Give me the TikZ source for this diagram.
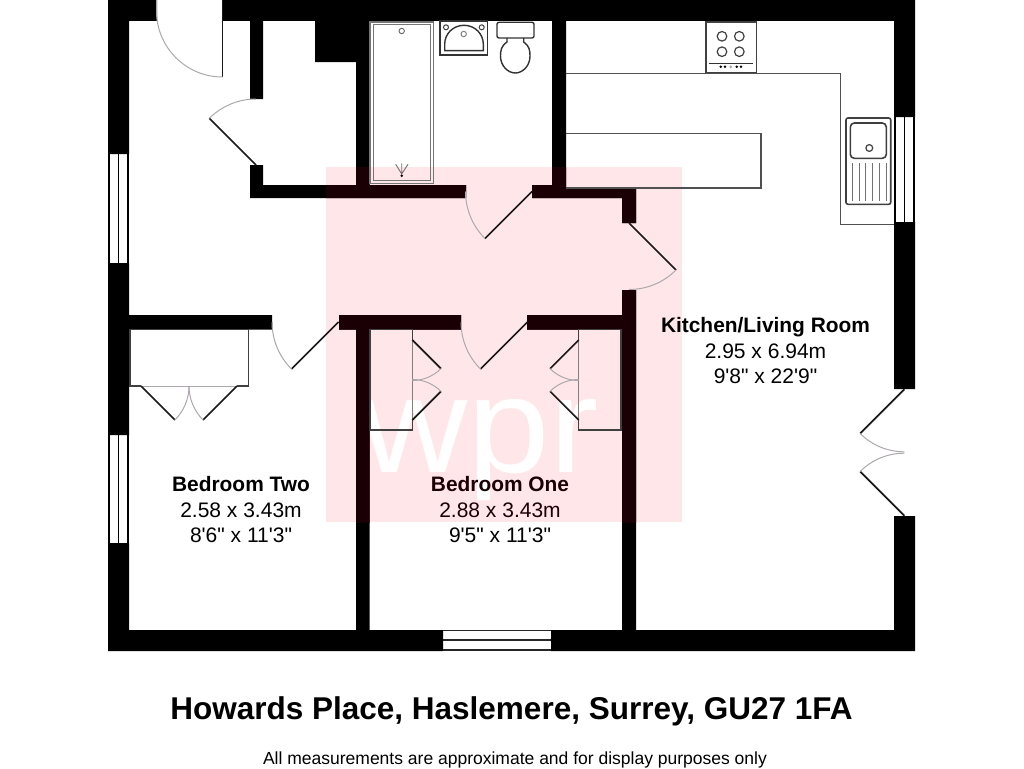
\documentclass[tikz,border=0pt]{standalone}
\usepackage{fontspec}
\newfontfamily\ar{Liberation Sans}
\definecolor{pinkmark}{HTML}{FFE6E9}
\definecolor{wallpink}{HTML}{1A0005}
\definecolor{fitgray}{HTML}{505050}
\definecolor{bathgray}{HTML}{757575}
\definecolor{sweepgray}{HTML}{ADA8AD}
\tikzset{
  x=1pt,y=-1pt,
  leaf/.style={draw=black!90,line width=1.7pt},
  sweep/.style={draw=sweepgray,line width=1pt},
  fitting/.style={draw=fitgray,line width=1.5pt},
  frame/.style={draw=black!75,line width=1.6pt},
  bath/.style={draw=bathgray,line width=1.5pt},
  thinline/.style={draw=black!80,line width=1.4pt},
  winline/.style={draw=black,line width=1.8pt},
  label/.style={inner sep=0pt,anchor=base,font=\ar\fontsize{21}{24}\selectfont},
  roomname/.style={inner sep=0pt,anchor=base,font=\ar\bfseries\fontsize{20.9}{24}\selectfont},
}
\newcommand\swing[4]{%
  \draw[leaf] (#1) -- ++(#3:#2);
  \draw[sweep] (#1) ++(#3:#2) arc[start angle=#3,end angle=#4,radius=#2];}
\newcommand\walls[1]{%
  \fill[#1]
    (108,0) rectangle (157,21) (223,0) rectangle (915,21)
    (108,21) rectangle (129,154) (108,263) rectangle (129,435) (108,543) rectangle (129,651)
    (894,21) rectangle (915,117) (894,222) rectangle (915,389) (894,516) rectangle (915,651)
    (108,630) rectangle (443,651) (551,630) rectangle (915,651)
    (250,21) rectangle (263,99) (250,165) rectangle (263,198)
    (250,185) rectangle (466,198)
    (356,21) rectangle (369.5,185) (315,21) rectangle (356,62)
    (552,21) rectangle (566,198)
    (532,185) rectangle (566,198) (566,188) rectangle (636,198)
    (622,188) rectangle (636,223) (622,290) rectangle (636,630)
    (129,315) rectangle (272,329.5)
    (339,315) rectangle (461,329.5)
    (527,315) rectangle (622,329.5)
    (356,329.5) rectangle (369.5,630);}
\begin{document}
\begin{tikzpicture}
\useasboundingbox (0,0) rectangle (1024,768);
\fill[white] (0,0) rectangle (1024,768);
% watermark
\fill[pinkmark] (326,167) rectangle (682,522.3);
\node[inner sep=0pt,anchor=base west,xscale=1.09,text=white,font=\ar\fontsize{136}{136}\selectfont] (mark) at (360,472) {wpr};
% walls
\walls{black}
\begin{scope}
  \clip (326,167) rectangle (682,522.3);
  \walls{wallpink}
\end{scope}
% windows
\foreach \x in {108.7,118.5,128.2}{\draw[winline] (\x,154) -- (\x,263); \draw[winline] (\x,435) -- (\x,543);}
\foreach \x in {895,904.5,914}{\draw[winline] (\x,117) -- (\x,222);}
\foreach \y in {630.5,640.3,650.2}{\draw[draw=black!85,line width=1.7pt] (443,\y) -- (551,\y);}
% doors
\swing{222.5,11}{66}{90}{180}
\draw[leaf,line width=1pt] (222.5,0) -- (222.5,11);
\draw[sweep] (156.5,11) -- (156.5,0);
\swing{256,165}{66}{225}{270}
\swing{532,191.5}{66.5}{135}{180}
\draw[sweep] (465.5,191.5) -- (465.5,198);
\swing{629,223}{66.5}{45}{90}
\swing{338.5,322}{66.5}{135}{180}
\draw[sweep] (272,322) -- (272,329.5);
\swing{527.5,322}{66.5}{135}{180}
\draw[sweep] (461,322) -- (461,329.5);
% bedroom two wardrobe
\draw[frame] (141,386) -- (130,386) -- (130,329.5) -- (248.3,329.5) -- (248.3,386) -- (237,386);
\draw[sweep] (141,386) -- (237,386);
\swing{141,386}{48}{45}{0}
\swing{237,386}{48}{135}{180}
% bedroom one wardrobes
\draw[frame,line width=1.2pt] (412.3,340) -- (412.3,329.5) -- (370,329.5) -- (370,430) -- (412.3,430) -- (412.3,420);
\draw[draw=black!50,line width=1pt] (412.3,340) -- (412.3,420);
\swing{412.3,340}{40.5}{45}{90}
\swing{412.3,420}{40.5}{-45}{-90}
\draw[frame,line width=1.2pt] (578.7,340) -- (578.7,329.5) -- (621,329.5) -- (621,430) -- (578.7,430) -- (578.7,420);
\draw[draw=black!50,line width=1pt] (578.7,340) -- (578.7,420);
\swing{578.7,340}{40.5}{135}{90}
\swing{578.7,420}{40.5}{225}{270}
% french doors
\swing{904.3,389.3}{62.5}{135}{90}
\swing{904.3,515.7}{62.5}{225}{270}
% kitchen worktops
\draw[fitting] (566,73.3) -- (840.7,73.3) -- (840.7,224.3) -- (894,224.3);
\draw[fitting] (566,133.7) -- (761,133.7) -- (761,187.8) -- (566,187.8);
% hob
\draw[frame,fill=white] (705.7,22) rectangle (756.3,72.5);
\foreach \x/\y in {722/36.3,739.3/36.3,722/51.7,739.3/51.7}{\draw[draw=black!75,line width=1.2pt] (\x,\y) circle[radius=4.8];}
\draw[draw=black!80,line width=1pt] (709,63.3) -- (753,63.3);
\foreach \x in {720.7,725,736.7,741}{\fill[black] (\x,66.8) circle[radius=1.4];}
\fill[black!35] (730.7,66.8) circle[radius=1.5];
% sink
\draw[frame,rounded corners=2pt] (846,118) rectangle (890.7,204.3);
\draw[frame,rounded corners=4pt] (850.3,123) rectangle (886.3,158.3);
\draw[frame,line width=1.2pt] (869.3,148) circle[radius=3.4];
\foreach \x in {852.3,859,865.7,872.7,879.3,886.7}{\draw[draw=black!55,line width=.8pt] (\x,163) -- (\x,200.7);}
% bath
\draw[bath] (370,22) rectangle (433.7,183.3);
\draw[bath] (373.7,24.7) rectangle (430.7,180.3);
\draw[draw=black!60,line width=.9pt] (401.7,31) circle[radius=2.7];
\draw[draw=black!55,line width=.9pt] (395.7,164.3) -- (401.7,174) -- (408,164.3) (401.7,163.3) -- (401.7,174);
\fill[black] (401.7,175.7) circle[radius=1.4];
% basin
\draw[thinline] (440,21) rectangle (487.3,55);
\draw[thinline] (444.7,50.7) -- (483.3,50.7) -- (483.3,44) .. controls (483.3,34) and (475,25.3) .. (464,25.3) .. controls (453,25.3) and (444.7,34) .. (444.7,44) -- cycle;
\draw[draw=black!75,line width=1pt] (446,27.3) circle[radius=2.5] (481.7,27.3) circle[radius=2.5];
\draw[draw=black!50,line width=1pt] (463.7,34) circle[radius=2.7];
% toilet
\draw[thinline,rounded corners=2pt] (497,22.3) rectangle (534,38);
\draw[thinline] (507,38) -- (507,42) .. controls (501,46) and (500.5,51) .. (500.5,56) .. controls (500.5,66) and (508,73) .. (515.3,73) .. controls (522.6,73) and (530,66) .. (530,56) .. controls (530,51) and (529.6,46) .. (523.7,42) -- (523.7,38);
% labels
\node[roomname] (kn) at (765.5,332) {Kitchen/Living Room};
\node[label] (kd) at (765.5,358) {2.95 x 6.94m};
\node[label] (ki) at (765.5,383) {9'8" x 22'9"};
\node[roomname] (bn) at (241,491.7) {Bedroom Two};
\node[label] (bd) at (241,517.7) {2.58 x 3.43m};
\node[label] (bi) at (241,542.7) {8'6" x 11'3"};
\node[roomname,text=wallpink] (an) at (500,491.7) {Bedroom One};
\node[label,text=wallpink] (ad) at (500,517.7) {2.88 x 3.43m};
\node[label] (ai) at (500,542.7) {9'5" x 11'3"};
\node[inner sep=0pt,anchor=base,font=\ar\bfseries\fontsize{31.5}{34}\selectfont] (title) at (511.5,719) {Howards Place, Haslemere, Surrey, GU27 1FA};
\node[inner sep=0pt,anchor=base,font=\ar\fontsize{17.5}{20}\selectfont] (foot) at (515,764) {All measurements are approximate and for display purposes only};
\end{tikzpicture}
\end{document}
